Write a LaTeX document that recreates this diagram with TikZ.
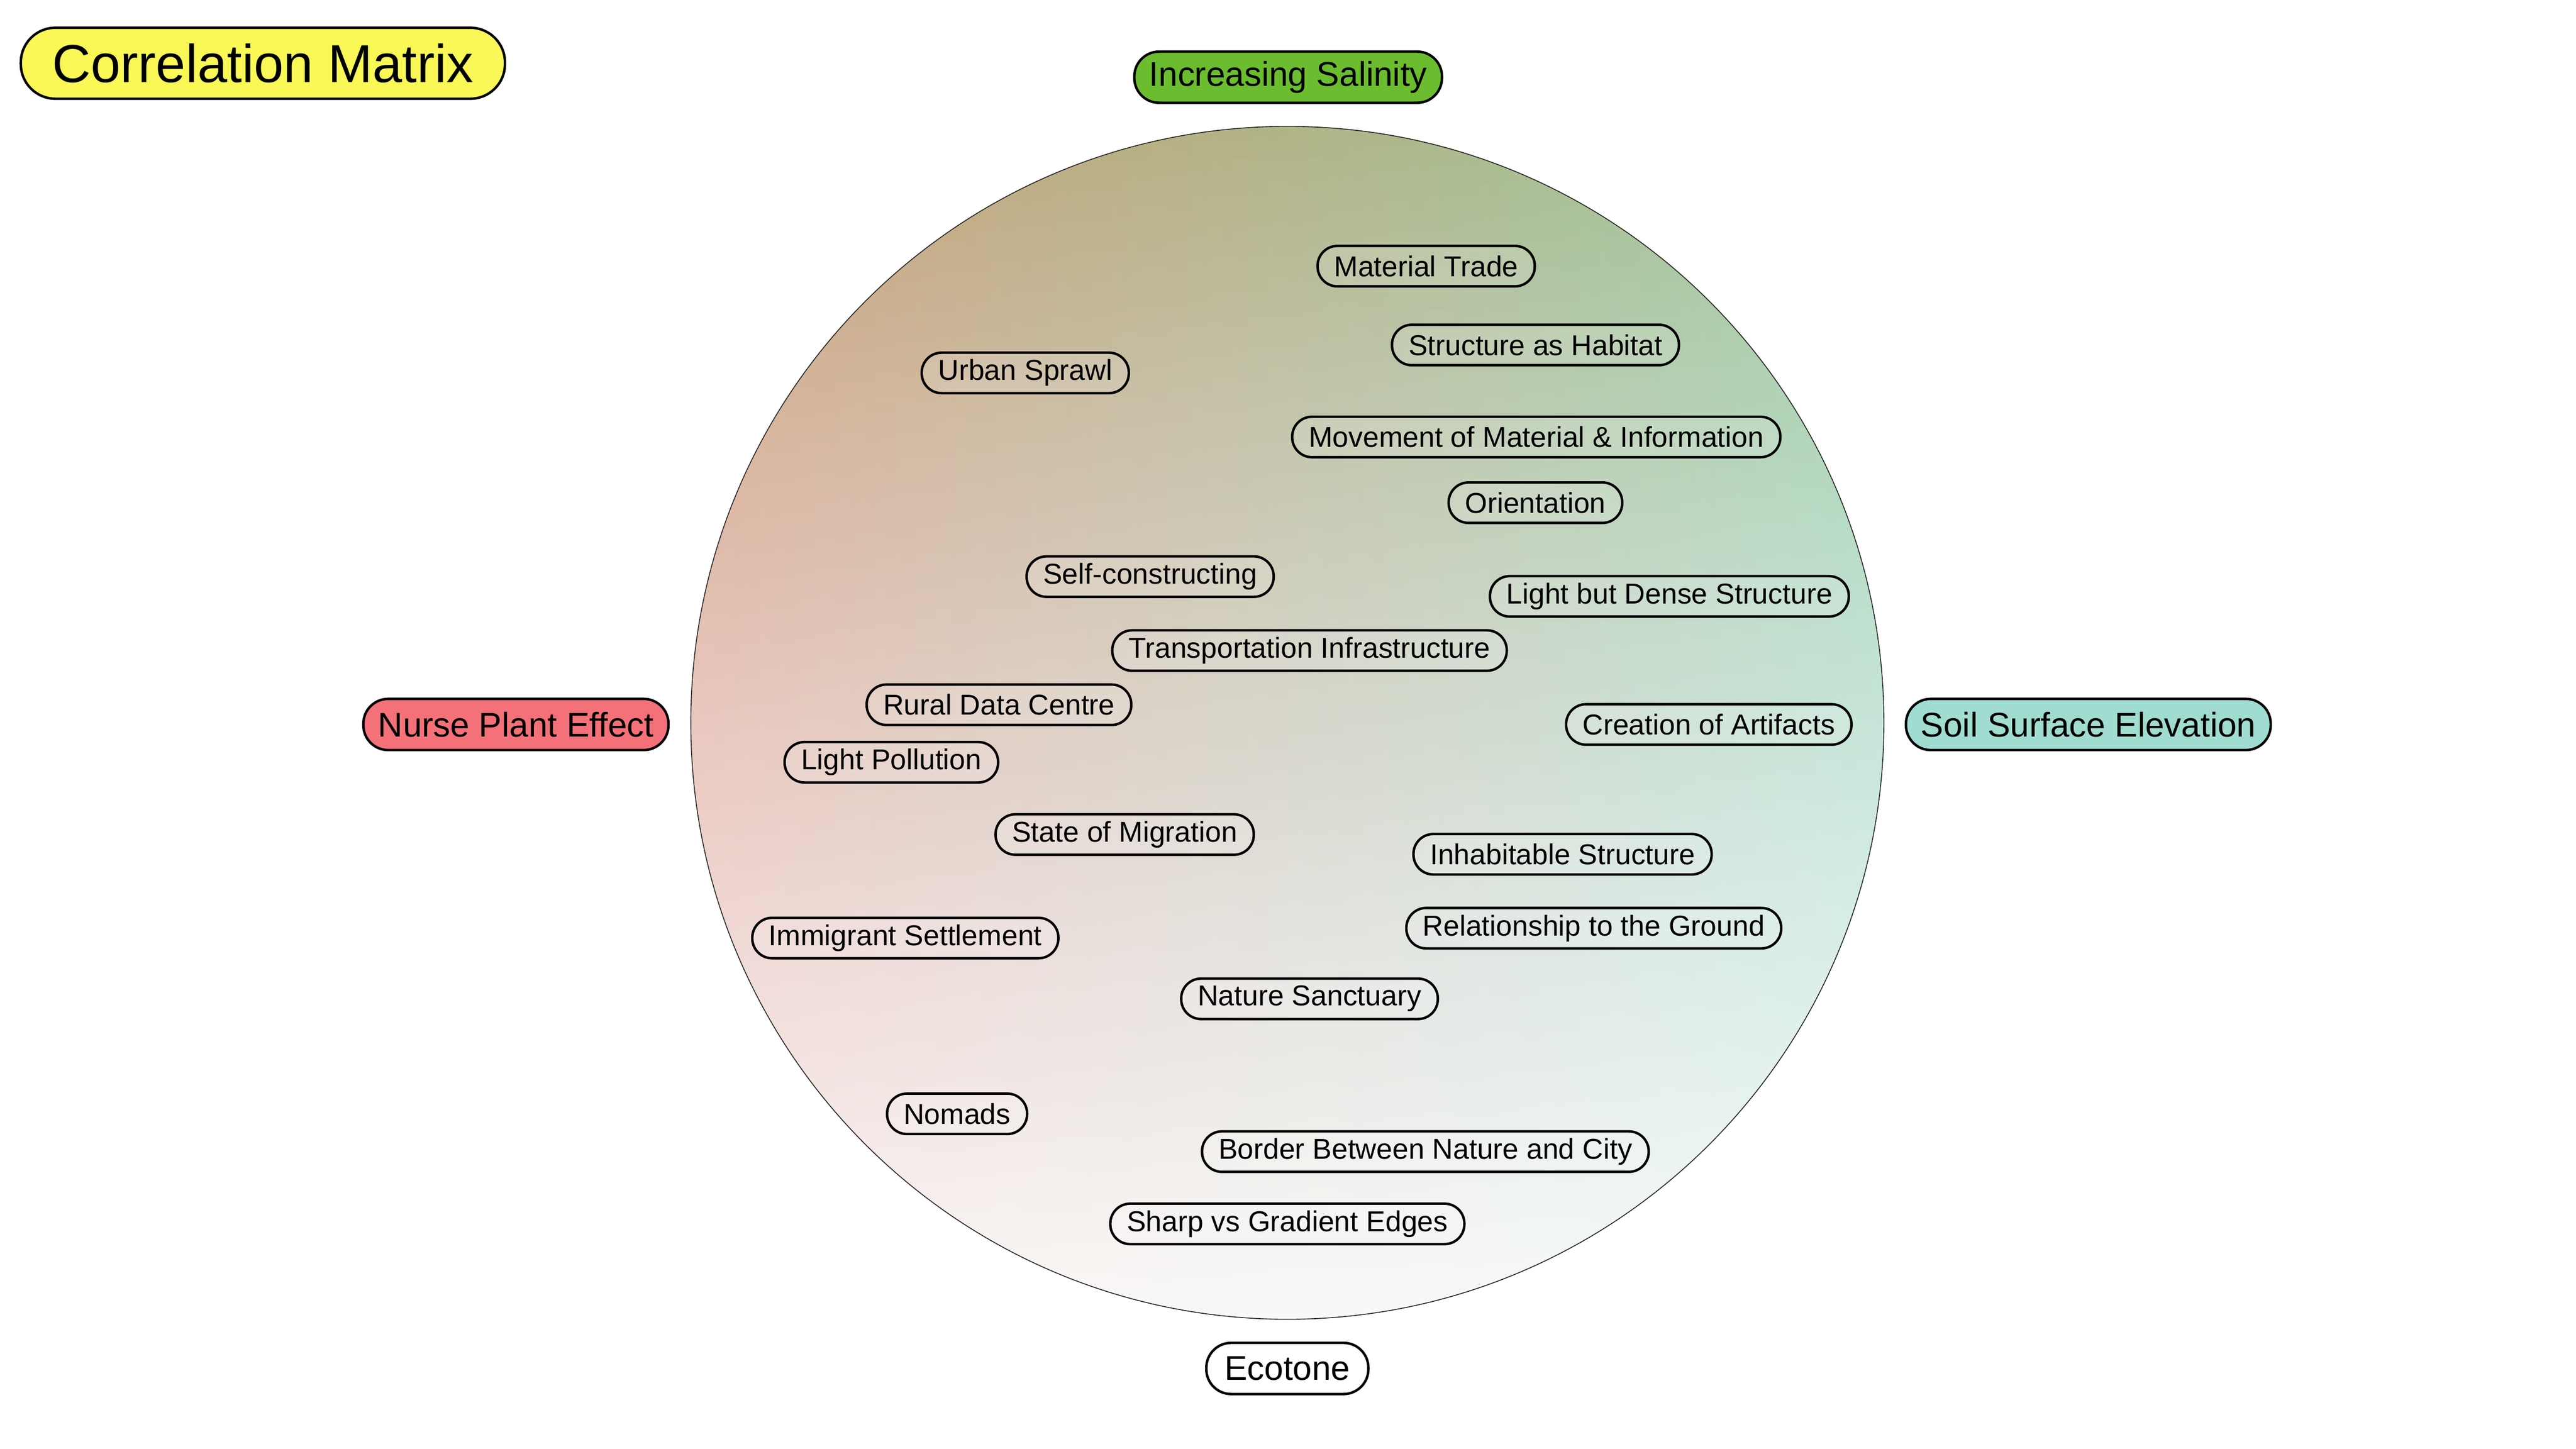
\documentclass[tikz,border=0pt]{standalone}
\usepackage{fontspec}
\setmainfont{Liberation Sans}
\usetikzlibrary{positioning,fadings}

\definecolor{titleyellow}{HTML}{F9F857}
\definecolor{salinitygreen}{HTML}{6BBD2F}
\definecolor{nursered}{HTML}{F4717A}
\definecolor{soilteal}{HTML}{A0DCCF}
\definecolor{nurseshade}{HTML}{DD978F}
\definecolor{soilshade}{HTML}{96D4C5}
\definecolor{salinityshade}{HTML}{A2B248}

% shaded paths use the 25bp--75bp band of a shading
\pgfdeclareverticalshading{salinityramp}{100bp}{color(0bp)=(black); color(45bp)=(black); color(61bp)=(black!68); color(75bp)=(black!27); color(100bp)=(black!27)}
\begin{tikzfadingfrompicture}[name=fade salinity]
\shade[shading=salinityramp] (-50bp,-50bp) rectangle (50bp,50bp);
\end{tikzfadingfrompicture}
\tikzfading[name=fade ecotone, top color=transparent!100, middle color=transparent!62, bottom color=transparent!8]

\begin{document}
\begin{tikzpicture}[x=0.0199cm,y=-0.0199cm]
\tikzstyle{titlebox}=[draw=black,line width=0.85pt,fill=titleyellow,
rounded corners=0.42cm,minimum height=0.86cm,inner xsep=0.38cm,inner ysep=0pt,
font=\fontsize{18.4}{22}\selectfont]
\tikzstyle{axisbox}=[draw=black,line width=0.85pt,
rounded corners=0.3cm,minimum height=0.62cm,inner xsep=0.18cm,inner ysep=0pt,
font=\fontsize{11.8}{14}\selectfont]
\tikzstyle{itembox}=[draw=black,line width=0.85pt,fill=white,fill opacity=0.15,text opacity=1,
rounded corners=0.24cm,minimum height=0.49cm,inner xsep=0.2cm,inner ysep=0pt,
font=\fontsize{9.9}{12}\selectfont]
\useasboundingbox (0,0) rectangle (1567.8,882);

% gradient disc
\shade[left color=nurseshade,right color=soilshade] (783.5,440) circle [radius=7.224cm];
\fill[salinityshade,path fading=fade salinity] (783.5,440) circle [radius=7.224cm];
\fill[white,path fading=fade ecotone] (783.5,440) circle [radius=7.224cm];
\draw[line width=0.3pt,black!85] (783.5,440) circle [radius=7.224cm];

\node[titlebox] at (160,38.5) (title) {Correlation Matrix};

\node[axisbox,fill=salinitygreen] at (784,47) (salinity) {Increasing Salinity};
\node[axisbox,fill=nursered] at (314,441) (nurse) {Nurse Plant Effect};
\node[axisbox,fill=soilteal] at (1271,441) (soil) {Soil Surface Elevation};
\node[axisbox,fill=white,inner xsep=0.22cm] at (783.5,833) (ecotone) {Ecotone};

\node[itembox] at (868,162) (trade) {Material Trade};
\node[itembox] at (934.5,210) (habitat) {Structure as Habitat};
\node[itembox] at (624,227) (sprawl) {Urban Sprawl\hspace{0.16cm}};
\node[itembox] at (935,266) (movement) {Movement of Material \& Information};
\node[itembox] at (934.5,306) (orient) {Orientation};
\node[itembox] at (700,351) (selfcon) {Self-constructing\hspace{0.12cm}};
\node[itembox] at (1016,363) (dense) {Light but Dense Structure};
\node[itembox] at (797,396) (transport) {Transportation Infrastructure};
\node[itembox] at (608,429) (datacentre) {Rural Data Centre};
\node[itembox] at (1040,441) (artifacts) {Creation of Artifacts};
\node[itembox] at (542.5,464) (lightpol) {Light Pollution};
\node[itembox] at (684.5,508) (migration) {State of Migration};
\node[itembox] at (951,520) (inhabit) {Inhabitable Structure};
\node[itembox] at (970,565) (ground) {Relationship to the Ground};
\node[itembox] at (551,571) (settle) {Immigrant Settlement};
\node[itembox] at (797,608) (sanctuary) {Nature Sanctuary\hspace{0.12cm}};
\node[itembox] at (582.5,678) (nomads) {Nomads};
\node[itembox] at (867.5,701) (border) {Border Between Nature and City};
\node[itembox] at (783.5,745) (edges) {Sharp vs Gradient Edges};

\end{tikzpicture}
\end{document}
